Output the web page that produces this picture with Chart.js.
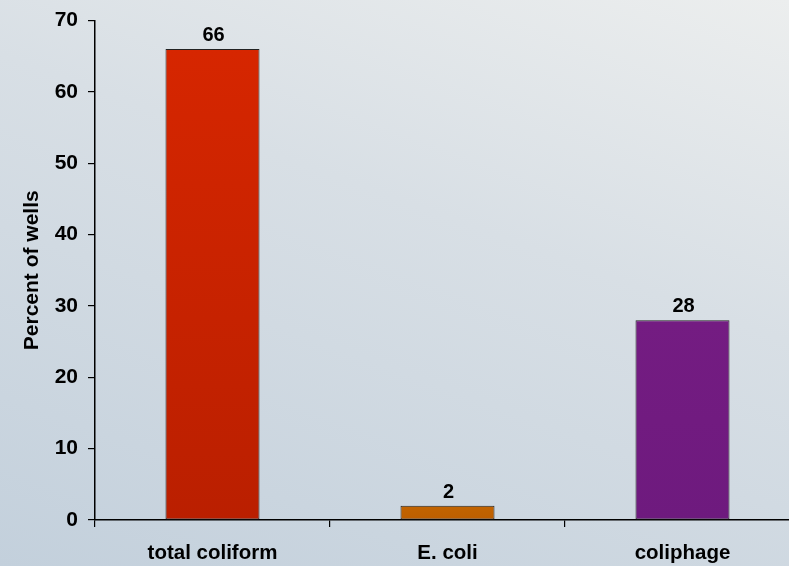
<!DOCTYPE html>
<html>
<head>
<meta charset="utf-8">
<script src="https://cdn.jsdelivr.net/npm/chart.js@4"></script>
<style>
html,body{margin:0;padding:0;overflow:hidden;width:789px;height:566px;}
body{background:linear-gradient(200deg,#eceeee 0%,#d8dfe5 40%,#c3d0dc 100%);}
#wrap{position:absolute;left:0;top:0;width:800px;height:566px;}
</style>
</head>
<body>
<div id="wrap"><canvas id="c" width="800" height="566"></canvas></div>
<script>
const categories = ["total coliform", "E. coli", "coliphage"];
const percentValues = [66, 2, 28];
const yTicks = [0, 10, 20, 30, 40, 50, 60, 70];
const barTopColors = ["#d62600", "#c26400", "#741c82"];
const barBottomColors = ["#ba1f00", "#bd5e00", "#6e1a7e"];

const FONT = "'Liberation Sans', Arial, sans-serif";

const valueLabels = {
  id: 'valueLabels',
  afterDatasetsDraw(chart) {
    const ctx = chart.ctx;
    const meta = chart.getDatasetMeta(0);
    ctx.save();
    ctx.font = "bold 20px " + FONT;
    ctx.fillStyle = "#000";
    ctx.textAlign = "center";
    ctx.textBaseline = "alphabetic";
    meta.data.forEach((bar, i) => {
      ctx.fillText(String(percentValues[i]), bar.x + 1, bar.y - 8);
    });
    ctx.restore();
  }
};

function barFill(context) {
  const chart = context.chart;
  const ca = chart.chartArea;
  if (!ca) return barTopColors[context.dataIndex];
  const i = context.dataIndex;
  const yTop = chart.scales.y.getPixelForValue(percentValues[i]);
  const yBot = chart.scales.y.getPixelForValue(0);
  const g = chart.ctx.createLinearGradient(0, yTop, 0, yBot + 0.01);
  g.addColorStop(0, barTopColors[i]);
  g.addColorStop(1, barBottomColors[i]);
  return g;
}

new Chart(document.getElementById('c'), {
  type: 'bar',
  data: {
    labels: categories,
    datasets: [{
      data: percentValues,
      backgroundColor: barFill,
      borderColor: "#222222",
      borderWidth: 1,
      borderSkipped: false,
      categoryPercentage: 0.4,
      barPercentage: 1.0
    }]
  },
  options: {
    responsive: false,
    animation: false,
    devicePixelRatio: 1,
    layout: { padding: { top: 20, right: 0, left: 0, bottom: 0 } },
    plugins: { legend: { display: false }, tooltip: { enabled: false } },
    scales: {
      y: {
        min: 0, max: 70,
        afterBuildTicks(scale) { scale.ticks = yTicks.map(v => ({ value: v })); },
        afterFit(scale) { scale.width = 95; },
        border: { display: true, color: "#000", width: 1.5 },
        grid: { drawOnChartArea: false, drawTicks: true, tickLength: 7, color: "#000", lineWidth: 1.2 },
        ticks: { color: "#000", font: { family: FONT, size: 21, weight: 'bold', lineHeight: 1 }, padding: 10 },
        title: { display: true, text: "Percent of wells", color: "#000", font: { family: FONT, size: 21, weight: 'bold' }, padding: { top: 20, bottom: 0 } }
      },
      x: {
        afterFit(scale) { scale.height = 46; },
        border: { display: true, color: "#000", width: 1.5 },
        grid: { drawOnChartArea: false, drawTicks: true, tickLength: 7, color: "#000", lineWidth: 1.2, offset: true },
        ticks: { color: "#000", font: { family: FONT, size: 20.5, weight: 'bold' }, padding: 14, maxRotation: 0 }
      }
    }
  },
  plugins: [valueLabels]
});
</script>
</body>
</html>
